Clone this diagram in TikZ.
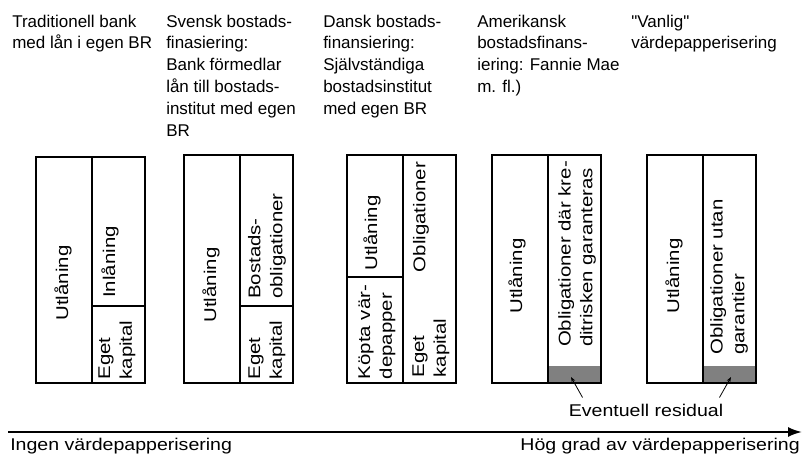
\documentclass[tikz,border=0pt]{standalone}
\usepackage{fontspec}
\setmainfont{Liberation Sans}
\usetikzlibrary{positioning,arrows.meta}
\definecolor{residualgray}{RGB}{128,128,128}
\tikzset{
	txt/.style={inner sep=0pt,font=\fontsize{12.75}{16.35}\selectfont},
	head/.style={txt,align=left,anchor=north west},
	wide/.style={txt,xscale=1.15},
	vtxt/.style={txt,rotate=90,xscale=1.2,align=left},
	box/.style={draw,line width=0.9pt},
	residual/.style={fill=residualgray},
	pointer/.style={-{Stealth[length=4pt,width=3pt]},line width=0.6pt},
	axis/.style={-{Latex[length=10.5pt,width=7.5pt]},line width=1.5pt}
}

\begin{document}
\begin{tikzpicture}[x=0.75pt,y=-0.75pt]
	\useasboundingbox (0,0) rectangle (802,456);
	%% rubriker
	\node[head] (ha) at (12,14.5) {Traditionell bank\\med lån i egen BR};
	\node[head,right=115.5pt of ha.north west,anchor=north west] (hb) {Svensk bostads-\\finasiering:\\Bank förmedlar\\lån till bostads-\\institut med egen\\BR};
	\node[head,right=233.25pt of ha.north west,anchor=north west] (hc) {Dansk bostads-\\finansiering:\\Självständiga\\bostadsinstitut\\med egen BR};
	\node[head,right=348.75pt of ha.north west,anchor=north west] (hd) {Amerikansk\\bostadsfinans-\\iering: Fannie Mae\\m. fl.)};
	\node[head,right=464.25pt of ha.north west,anchor=north west] (he) {\textquotedbl Vanlig\textquotedbl\\värdepapperisering};
	%% kolumn a
	\draw[box] (36,157) rectangle (145,383);
	\draw[box] (92,157) -- (92,383);
	\draw[box] (92,306) -- (145,306);
	\node[vtxt] (a1) at (63,283) {Utlåning};
	\node[vtxt] (a2) at (110,262) {Inlåning};
	\node[vtxt] (a3) at (117,350) {Eget\\kapital};
	%% kolumn b
	\draw[box] (184,155) rectangle (293,383);
	\draw[box] (240,155) -- (240,383);
	\draw[box] (240,306) -- (293,306);
	\node[vtxt] (b1) at (211,285) {Utlåning};
	\node[vtxt] (b2) at (267,246) {Bostads-\\obligationer};
	\node[vtxt] (b3) at (267,350) {Eget\\kapital};
	%% kolumn c
	\draw[box] (347,155) rectangle (456,383);
	\draw[box] (403,155) -- (403,383);
	\draw[box] (347,277) -- (403,277);
	\node[vtxt] (c1) at (372,233) {Utlåning};
	\node[vtxt] (c2) at (421,217) {Obligationer};
	\node[vtxt] (c3) at (377,332) {Köpta vär-\\depapper};
	\node[vtxt] (c4) at (431,348) {Eget\\kapital};
	%% kolumn d
	\fill[residual] (548,366) rectangle (601,383);
	\draw[box] (492,155) rectangle (601,383);
	\draw[box] (548,155) -- (548,383);
	\node[vtxt] (d1) at (517,276) {Utlåning};
	\node[vtxt] (d2) at (577,254) {Obligationer där kre-\\ditrisken garanteras};
	\coordinate (d3) at (571,377);
	%% kolumn e
	\fill[residual] (703,366) rectangle (756,383);
	\draw[box] (647,155) rectangle (756,383);
	\draw[box] (703,155) -- (703,383);
	\node[vtxt] (e1) at (674,276) {Utlåning};
	\node[vtxt] (e2) at (729,277) {Obligationer utan\\garantier};
	\coordinate (e3) at (731,377);
	%% residual
	\node[wide] (res) at (646,410) {Eventuell residual};
	\draw[pointer] ([xshift=10.5pt,yshift=4.5pt]res.north west) -- (d3);
	\draw[pointer] ([xshift=-3pt,yshift=4.5pt]res.north east) -- (e3);
	%% axel
	\coordinate (x0) at (8,432);
	\coordinate (x1) at (802,432);
	\draw[axis] (x0) -- (x1);
	\node[wide,anchor=west] (l0) at (10,446) {Ingen värdepapperisering};
	\node[wide,anchor=east] (l1) at (800,446) {Hög grad av värdepapperisering};
\end{tikzpicture}
\end{document}
